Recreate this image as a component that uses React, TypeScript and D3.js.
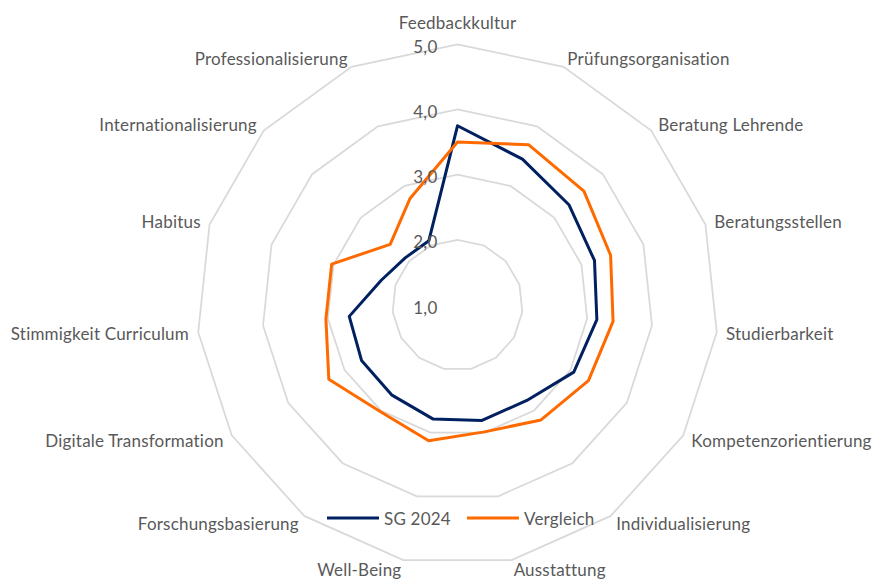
import React from "react";
import * as d3 from "d3";

const categories = [
  "Feedbackkultur",
  "Prüfungsorganisation",
  "Beratung Lehrende",
  "Beratungsstellen",
  "Studierbarkeit",
  "Kompetenzorientierung",
  "Individualisierung",
  "Ausstattung",
  "Well-Being",
  "Forschungsbasierung",
  "Digitale Transformation",
  "Stimmigkeit Curriculum",
  "Habitus",
  "Internationalisierung",
  "Professionalisierung",
];

const sg2024 = [3.75, 3.45, 3.3, 3.21, 3.15, 3.06, 2.81, 2.81, 2.79, 2.71, 2.7, 2.67, 2.23, 2.08, 2.08];
const vergleich = [3.5, 3.69, 3.61, 3.47, 3.4, 3.32, 3.18, 2.99, 3.13, 3.02, 3.28, 3.03, 3.03, 2.39, 2.79];

const ticks = [1, 2, 3, 4, 5];
const tickLabels = ["1,0", "2,0", "3,0", "4,0", "5,0"];

const seriesNames = ["SG 2024", "Vergleich"];
const seriesColors = ["#002060", "#FF6A00"];

const W = 874;
const H = 579;
const cx = 457.5;
const cy = 305;
const FONT = "Lato, 'Open Sans', sans-serif";
const TEXT = "#595959";
const FS = 17;
const LS = 0.2;

export default function App() {
  const r = d3.scaleLinear().domain([1, 5]).range([0, 260.7]);
  const angle = d3
    .scalePoint<string>()
    .domain(categories)
    .range([0, 2 * Math.PI * (1 - 1 / categories.length)]);

  const ringLine = d3
    .lineRadial<string>()
    .angle((c) => angle(c) as number)
    .curve(d3.curveLinearClosed);

  const seriesLine = d3
    .lineRadial<number>()
    .angle((_, i) => angle(categories[i]) as number)
    .radius((v) => r(v))
    .curve(d3.curveLinearClosed);

  const labelR = 270;
  const series = [sg2024, vergleich];

  return (
    <svg
      width={W}
      height={H}
      style={{ position: "absolute", left: 0, top: 0, background: "#fff" }}
      fontFamily={FONT}
    >
      <rect x={0} y={0} width={W} height={H} fill="#fff" />
      <g transform={`translate(${cx},${cy})`}>
        {ticks.slice(1).map((t) => (
          <path
            key={t}
            d={ringLine.radius(() => r(t))(categories) || ""}
            fill="none"
            stroke="#D9D9D9"
            strokeWidth={1.75}
          />
        ))}
        {series.map((s, i) => (
          <path
            key={i}
            d={seriesLine(s) || ""}
            fill="none"
            stroke={seriesColors[i]}
            strokeWidth={3}
            strokeLinejoin="round"
          />
        ))}
        {ticks.map((t, i) => (
          <text
            key={t}
            x={-20}
            y={-r(t) + 2}
            textAnchor="end"
            dominantBaseline="central"
            fontSize={FS}
            letterSpacing={LS}
            fill={TEXT}
          >
            {tickLabels[i]}
          </text>
        ))}
        {categories.map((c) => {
          const a = angle(c) as number;
          const sx = Math.sin(a);
          const sy = -Math.cos(a);
          const x = labelR * sx;
          let y = labelR * sy;
          let anchor = "middle";
          if (sx > 0.05) anchor = "start";
          else if (sx < -0.05) anchor = "end";
          if (Math.abs(sx) < 0.05 && sy < 0) y -= 13;
          return (
            <text
              key={c}
              x={x}
              y={y}
              textAnchor={anchor}
              dominantBaseline="central"
              fontSize={FS}
              letterSpacing={LS}
              fill={TEXT}
            >
              {c}
            </text>
          );
        })}
      </g>
      <g>
        {seriesNames.map((n, i) => {
          const x0 = i === 0 ? 327 : 467;
          return (
            <g key={n}>
              <line
                x1={x0}
                x2={x0 + 52}
                y1={518}
                y2={518}
                stroke={seriesColors[i]}
                strokeWidth={3}
              />
              <text
                x={x0 + 57}
                y={518}
                dominantBaseline="central"
                fontSize={FS}
                letterSpacing={LS}
                fill={TEXT}
              >
                {n}
              </text>
            </g>
          );
        })}
      </g>
    </svg>
  );
}
